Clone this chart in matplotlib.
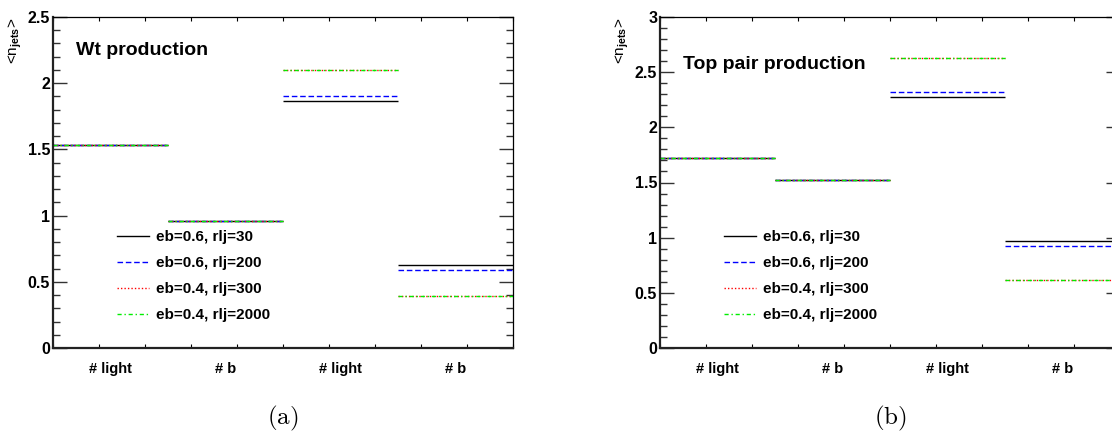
import numpy as np
import matplotlib
matplotlib.use("Agg")
import matplotlib.pyplot as plt
from matplotlib.ticker import MultipleLocator, FuncFormatter

plt.rcParams['font.family'] = ['Liberation Sans', 'DejaVu Sans']
plt.rcParams['font.weight'] = 'bold'
plt.rcParams['mathtext.fontset'] = 'custom'
plt.rcParams['mathtext.rm'] = 'Liberation Sans:bold'
plt.rcParams['mathtext.bf'] = 'Liberation Sans:bold'
plt.rcParams['mathtext.it'] = 'Liberation Sans:bold'

# bins and labels
bin_edges = [0, 1, 2, 3, 4]
bin_labels = ['# light', '# b', '# light', '# b']

series_labels = ['eb=0.6, rlj=30', 'eb=0.6, rlj=200', 'eb=0.4, rlj=300', 'eb=0.4, rlj=2000']

# (a) Wt production
wt_30 = [1.53, 0.96, 1.865, 0.627]
wt_200 = [1.53, 0.96, 1.905, 0.587]
wt_300 = [1.53, 0.96, 2.10, 0.39]
wt_2000 = [1.53, 0.96, 2.10, 0.39]

# (b) top pair production
tt_30 = [1.72, 1.525, 2.275, 0.973]
tt_200 = [1.72, 1.525, 2.32, 0.925]
tt_300 = [1.72, 1.525, 2.63, 0.615]
tt_2000 = [1.72, 1.525, 2.63, 0.615]

styles = [
    dict(color='black', linestyle='-'),
    dict(color='#0000ff', linestyle=(0, (4, 2))),
    dict(color='#ff0000', linestyle=(0, (1, 1.5))),
    dict(color='#00ee00', linestyle=(0, (3, 2, 1, 2))),
]


def draw_panel(ax, series, ymax, title, title_y, caption):
    edges = np.array(bin_edges, dtype=float)
    handles = []
    for vals, st, lab in zip(series, styles, series_labels):
        ax.hlines(vals, edges[:-1], edges[1:], colors=st['color'],
                  linestyles=[st['linestyle']], linewidth=1.0)
        h, = ax.plot([], [], color=st['color'], linestyle=st['linestyle'],
                     linewidth=1.0, label=lab)
        handles.append(h)

    ax.set_xlim(edges[0], edges[-1])
    ax.set_ylim(0, ymax)

    # x: plain ticks every 0.4, bin names on minor ticks at the centres
    ax.xaxis.set_major_locator(MultipleLocator(0.4))
    ax.xaxis.set_major_formatter(FuncFormatter(lambda v, p: ''))
    centres = (edges[:-1] + edges[1:]) / 2
    ax.set_xticks(centres, bin_labels, minor=True)
    ax.tick_params(axis='x', which='major', direction='in', top=True,
                   bottom=True, length=3, width=0.8)
    ax.tick_params(axis='x', which='minor', length=0, pad=10, labelsize=10.5)

    ax.yaxis.set_major_locator(MultipleLocator(0.5))
    ax.yaxis.set_minor_locator(MultipleLocator(0.1))
    ax.yaxis.set_major_formatter(FuncFormatter(lambda v, p: '%g' % v))
    ax.tick_params(axis='y', which='both', direction='in', left=True,
                   right=True, labelsize=11.5, pad=2, colors='#333333',
                   labelcolor='black')
    ax.tick_params(axis='y', which='major', length=10, width=1.0)
    ax.tick_params(axis='y', which='minor', length=5, width=1.0)

    for side in ['left', 'bottom']:
        ax.spines[side].set_linewidth(1.6)
        ax.spines[side].set_color('#222222')
    for side in ['top', 'right']:
        ax.spines[side].set_linewidth(0.9)

    ax.set_ylabel(r'<n$_{\mathbf{jets}}$>', fontsize=11, loc='top')
    ax.yaxis.set_label_coords(-0.064, 1.0)

    ax.text(0.05, title_y, title, transform=ax.transAxes, fontsize=14,
            fontweight='bold', va='center', ha='left')

    ax.legend(handles=handles, loc='upper left', bbox_to_anchor=(0.14, 0.355),
              frameon=False, fontsize=11, handlelength=2.1, handletextpad=0.4,
              labelspacing=0.78, borderpad=0, borderaxespad=0)

    ax.text(0.5, -0.213, r'$\mathrm{' + caption + '}$', transform=ax.transAxes,
            fontsize=18, ha='center', va='center', math_fontfamily='cm')


fig = plt.figure(figsize=(11.12, 4.34), dpi=100)
ax_a = fig.add_axes([53 / 1112, 86 / 434, 460 / 1112, 331 / 434])
ax_b = fig.add_axes([660 / 1112, 86 / 434, 460 / 1112, 331 / 434])

draw_panel(ax_a, [wt_30, wt_200, wt_300, wt_2000], 2.5, 'Wt production', 0.90, '(a)')
draw_panel(ax_b, [tt_30, tt_200, tt_300, tt_2000], 3.0, 'Top pair production', 0.855, '(b)')

fig.savefig('out.png', dpi=100)
